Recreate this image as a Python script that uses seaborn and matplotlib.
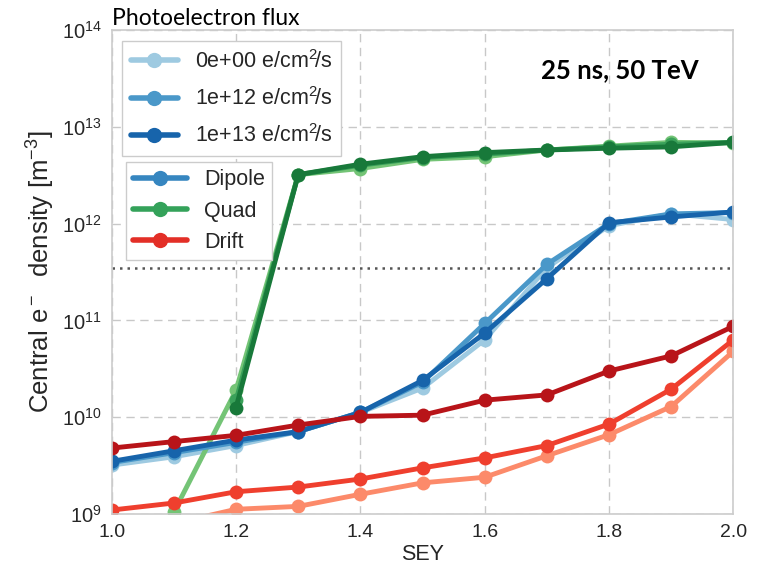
import matplotlib
matplotlib.use("Agg")
import matplotlib.pyplot as plt
from matplotlib.lines import Line2D
import numpy as np
import pandas as pd
import seaborn as sns

# Secondary electron yield scan
sey = [1.0, 1.1, 1.2, 1.3, 1.4, 1.5, 1.6, 1.7, 1.8, 1.9, 2.0]

flux_labels = ["0e+00 e/cm$^2\\!$/s", "1e+12 e/cm$^2\\!$/s", "1e+13 e/cm$^2\\!$/s"]
magnets = ["Dipole", "Quad", "Drift"]

nan = float("nan")  # no electron cloud build-up (not shown on log axis)

# Central electron density [m^-3] per magnet type and photoelectron flux
dipole_f0 = [3.2e9, 3.9e9, 5.1e9, 7.1e9, 1.12e10, 2.0e10, 6.3e10, 3.5e11, 9.5e11, 1.26e12, 1.1e12]
dipole_f12 = [3.4e9, 4.3e9, 5.5e9, 7.1e9, 1.12e10, 2.3e10, 9.3e10, 3.8e11, 1.0e12, 1.26e12, 1.3e12]
dipole_f13 = [3.5e9, 4.5e9, 5.8e9, 7.1e9, 1.12e10, 2.4e10, 7.4e10, 2.7e11, 1.02e12, 1.17e12, 1.32e12]

quad_f0 = [nan, 1.05e9, 1.9e10, 3.2e12, 3.7e12, 4.6e12, 4.9e12, 5.75e12, 6.3e12, 6.9e12, 6.8e12]
quad_f12 = [nan, nan, 1.5e10, 3.2e12, 4.0e12, 4.8e12, 5.2e12, 5.75e12, 6.2e12, 6.6e12, 6.9e12]
quad_f13 = [nan, nan, 1.26e10, 3.2e12, 4.1e12, 4.9e12, 5.4e12, 5.75e12, 6.0e12, 6.2e12, 6.9e12]

drift_f0 = [6e8, 8e8, 1.12e9, 1.2e9, 1.6e9, 2.1e9, 2.4e9, 4.0e9, 6.6e9, 1.29e10, 4.8e10]
drift_f12 = [1.1e9, 1.3e9, 1.7e9, 1.9e9, 2.3e9, 3.0e9, 3.8e9, 5.1e9, 8.5e9, 1.95e10, 6.3e10]
drift_f13 = [4.8e9, 5.6e9, 6.5e9, 8.3e9, 1.02e10, 1.05e10, 1.5e10, 1.7e10, 3.0e10, 4.3e10, 8.7e10]

# Multipacting threshold reference level
threshold = 3.5e11

y_ticks = [1e9, 1e10, 1e11, 1e12, 1e13, 1e14]
x_ticks = [1.0, 1.2, 1.4, 1.6, 1.8, 2.0]

series = {
    ("Dipole", 0): dipole_f0, ("Dipole", 1): dipole_f12, ("Dipole", 2): dipole_f13,
    ("Quad", 0): quad_f0, ("Quad", 1): quad_f12, ("Quad", 2): quad_f13,
    ("Drift", 0): drift_f0, ("Drift", 1): drift_f12, ("Drift", 2): drift_f13,
}

shades = {
    "Dipole": ["#9ecae1", "#4a98c9", "#1764ab"],
    "Quad": ["#74c476", "#3aa15a", "#18793a"],
    "Drift": ["#fc8a6a", "#ef3f2e", "#b81419"],
}
base_colors = {"Dipole": "#3686c0", "Quad": "#34a25a", "Drift": "#e32f27"}

sns.set_theme(style="whitegrid")
plt.rcParams["font.family"] = ["Liberation Sans", "DejaVu Sans"]
plt.rcParams["mathtext.fontset"] = "custom"
plt.rcParams["mathtext.rm"] = "Liberation Sans"
plt.rcParams["mathtext.it"] = "Liberation Sans:italic"
plt.rcParams["mathtext.bf"] = "Liberation Sans:bold"

fig = plt.figure(figsize=(7.6, 5.75), dpi=100)
ax = fig.add_axes([0.147, 0.106, 0.818, 0.842])

for k in range(3):
    for m in magnets:
        df = pd.DataFrame({"SEY": sey, "density": series[(m, k)]}).dropna()
        sns.lineplot(data=df, x="SEY", y="density", ax=ax, color=shades[m][k],
                     marker="o", markersize=10, markeredgewidth=0, linewidth=3.5,
                     legend=False)

ax.axhline(threshold, color="#555555", linestyle=(0, (1, 2)), linewidth=1.8, zorder=1)

ax.set_yscale("log")
ax.set_xlim(1.0, 2.0)
ax.set_ylim(1e9, 1e14)
ax.set_xticks(x_ticks)
ax.set_xticklabels([f"{t:.1f}" for t in x_ticks])
ax.set_yticks(y_ticks)
ax.set_yticklabels([f"$10^{{{int(np.log10(t))}}}$" for t in y_ticks])
ax.yaxis.set_minor_locator(matplotlib.ticker.NullLocator())
ax.tick_params(axis="x", labelsize=14, colors="#262626", length=0, pad=7)
ax.tick_params(axis="y", labelsize=14.5, colors="#262626", length=0, pad=7)

ax.grid(True, linestyle=(0, (6, 4)), color="#c8c8c8", linewidth=1)
for sp in ax.spines.values():
    sp.set_color("#cccccc")
    sp.set_linewidth(1.2)

ax.set_xlabel("SEY", fontsize=15.5, color="#262626", labelpad=2)
ax.set_ylabel("Central e$^-$  density [m$^{-3}$]", fontsize=18.5, color="#262626",
              labelpad=4)

flux_handles = [Line2D([], [], color=shades["Dipole"][k], marker="o", markersize=11,
                       markeredgewidth=0, linewidth=4) for k in range(3)]
leg1 = ax.legend(flux_handles, flux_labels, loc="upper left",
                 bbox_to_anchor=(0.016, 0.977), fontsize=15.5, frameon=True,
                 handlelength=2.2, borderpad=0.42, labelspacing=0.66,
                 handletextpad=0.8, borderaxespad=0, fancybox=False)
leg1.get_frame().set_edgecolor("#cccccc")
leg1.get_frame().set_alpha(1)
ax.add_artist(leg1)

mag_handles = [Line2D([], [], color=base_colors[m], marker="o", markersize=11,
                      markeredgewidth=0, linewidth=4) for m in magnets]
leg2 = ax.legend(mag_handles, magnets, loc="upper left",
                 bbox_to_anchor=(0.0225, 0.727), fontsize=15.5, frameon=True,
                 handlelength=2.5, borderpad=0.33, labelspacing=0.48,
                 handletextpad=0.8, borderaxespad=0, fancybox=False)
leg2.get_frame().set_edgecolor("#cccccc")
leg2.get_frame().set_alpha(1)

fig.text(0.147, 0.968, "Photoelectron flux", fontsize=16.5, family="Lato",
         ha="left", va="center", color="black")
ax.text(0.818, 0.917, "25 ns, 50 TeV", transform=ax.transAxes, fontsize=18.5,
        family="Lato", fontweight="bold", ha="center", va="center", color="black")

fig.savefig("out.png", dpi=100)
